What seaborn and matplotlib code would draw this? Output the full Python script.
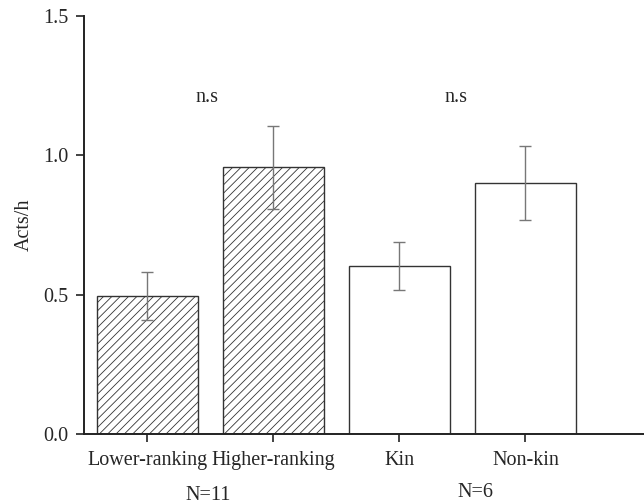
import matplotlib
matplotlib.use("Agg")
import matplotlib.pyplot as plt
import seaborn as sns
import pandas as pd

categories = ["Lower-ranking", "Higher-ranking", "Kin", "Non-kin"]
means = [0.495, 0.957, 0.604, 0.901]
errors = [0.087, 0.148, 0.086, 0.133]
hatched = [True, True, False, False]
group_labels = ["N=11", "N=6"]
ns_labels = ["n.s", "n.s"]

sns.set_style("ticks")
plt.rcParams['font.family'] = ['Liberation Serif', 'DejaVu Serif']
plt.rcParams['hatch.color'] = '#666666'
plt.rcParams['hatch.linewidth'] = 0.6

FS = 14.5

df = pd.DataFrame({"cat": categories, "val": means})

fig = plt.figure(figsize=(6.44, 5.04), dpi=100)
ax = fig.add_axes([0.1304, 0.1389, 0.8696, 0.8294])

sns.barplot(data=df, x="cat", y="val", color="white", width=0.8,
            edgecolor="#333333", linewidth=1.0, errorbar=None, ax=ax,
            saturation=1)
for p, h in zip(ax.patches, hatched):
    p.set_facecolor("white")
    if h:
        p.set_hatch("////")

ax.errorbar(range(len(categories)), means, yerr=errors, fmt="none",
            ecolor="#777777", elinewidth=1.0, capsize=4, capthick=1.0)

ax.set_xlim(-0.502, 3.94)
ax.set_ylim(0, 1.5)
ax.set_yticks([0.0, 0.5, 1.0, 1.5])
ax.set_yticklabels(["0.0", "0.5", "1.0", "1.5"])
ax.set_xlabel("")
ax.set_ylabel("Acts/h", fontsize=FS, labelpad=7)
ax.tick_params(axis="both", labelsize=FS, direction="out", length=6,
               width=1.2, color="#222222", pad=5)
ax.tick_params(axis="x", pad=6.5)
for s in ["top", "right"]:
    ax.spines[s].set_visible(False)
for s in ["left", "bottom"]:
    ax.spines[s].set_linewidth(1.4)
    ax.spines[s].set_color("#222222")

ax.text(0.47, 1.206, ns_labels[0], ha="center", va="center", fontsize=FS)
ax.text(2.45, 1.206, ns_labels[1], ha="center", va="center", fontsize=FS)

tr = ax.get_xaxis_transform()
ax.text(0.485, -0.147, group_labels[0], transform=tr, ha="center", va="center", fontsize=FS)
ax.text(2.6, -0.139, group_labels[1], transform=tr, ha="center", va="center", fontsize=FS)

fig.savefig("out.png", dpi=100)
